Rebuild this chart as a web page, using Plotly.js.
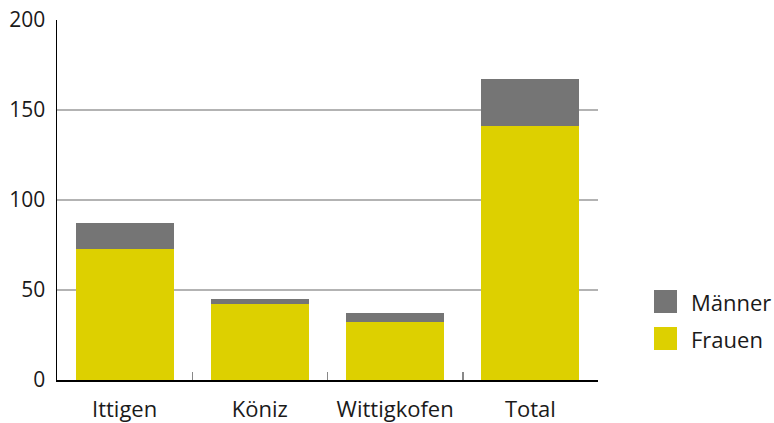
<!DOCTYPE html>
<html>
<head>
<meta charset="utf-8">
<script src="https://cdn.plot.ly/plotly-3.0.1.min.js"></script>
<style>html,body{margin:0;padding:0;background:#fff;}#chart{width:774px;height:423px;}</style>
</head>
<body>
<div id="chart"></div>
<script>
const categories = ["Ittigen", "Köniz", "Wittigkofen", "Total"];
const frauen = [73, 42, 32, 141];
const maenner = [14, 3, 5, 26];
const yTicks = [0, 50, 100, 150, 200];
const seriesNames = ["Männer", "Frauen"];
const colFrauen = "#ddd000";
const colMaenner = "#757575";

const fam = "Open Sans, sans-serif";
const yFont = {family: fam, size: 21, color: "#1a1a1a"};
const xFont = {family: fam, size: 22, color: "#1a1a1a"};

const traces = [
  {type: "bar", name: seriesNames[1], x: categories, y: frauen, marker: {color: colFrauen}, showlegend: false, hoverinfo: "none"},
  {type: "bar", name: seriesNames[0], x: categories, y: maenner, marker: {color: colMaenner}, showlegend: false, hoverinfo: "none"}
];

// legend drawn as shapes + annotations (larger swatches than Plotly's legend)
const legendItems = [{name: seriesNames[0], color: colMaenner}, {name: seriesNames[1], color: colFrauen}];
const shapes = [];
const annotations = [];
legendItems.forEach((it, i) => {
  const y0 = 290 + i * 37;
  shapes.push({type: "rect", xref: "paper", yref: "paper", layer: "above",
    x0: (654 - 57) / 541, x1: (677 - 57) / 541,
    y0: (380 - (y0 + 23)) / 360, y1: (380 - y0) / 360,
    fillcolor: it.color, line: {width: 0}});
  annotations.push({xref: "paper", yref: "paper", showarrow: false, xanchor: "left", yanchor: "middle",
    x: (689 - 57) / 541, y: (380 - (y0 + 11.5)) / 360, text: it.name, font: xFont});
});

const layout = {
  width: 774, height: 423,
  margin: {l: 57, r: 176, t: 20, b: 43, pad: 0},
  paper_bgcolor: "#fff", plot_bgcolor: "#fff",
  font: yFont,
  barmode: "stack",
  bargap: 0.275,
  showlegend: false,
  xaxis: {
    type: "category", showline: true, linecolor: "#000", linewidth: 1.5,
    ticks: "inside", tickson: "boundaries", ticklen: 8, tickcolor: "#888", tickwidth: 1.5,
    showgrid: false, tickfont: xFont, ticklabelstandoff: 9, fixedrange: true
  },
  yaxis: {
    range: [0, 200], tickvals: yTicks, ticktext: yTicks.map(String),
    showline: true, linecolor: "#000", linewidth: 1.5, ticks: "",
    showgrid: true, gridcolor: "#b3b3b3", gridwidth: 1.2, zeroline: false,
    tickfont: yFont, ticklabelstandoff: 6, fixedrange: true
  },
  shapes: shapes,
  annotations: annotations
};

Plotly.newPlot("chart", traces, layout, {displayModeBar: false, staticPlot: true});
</script>
</body>
</html>
